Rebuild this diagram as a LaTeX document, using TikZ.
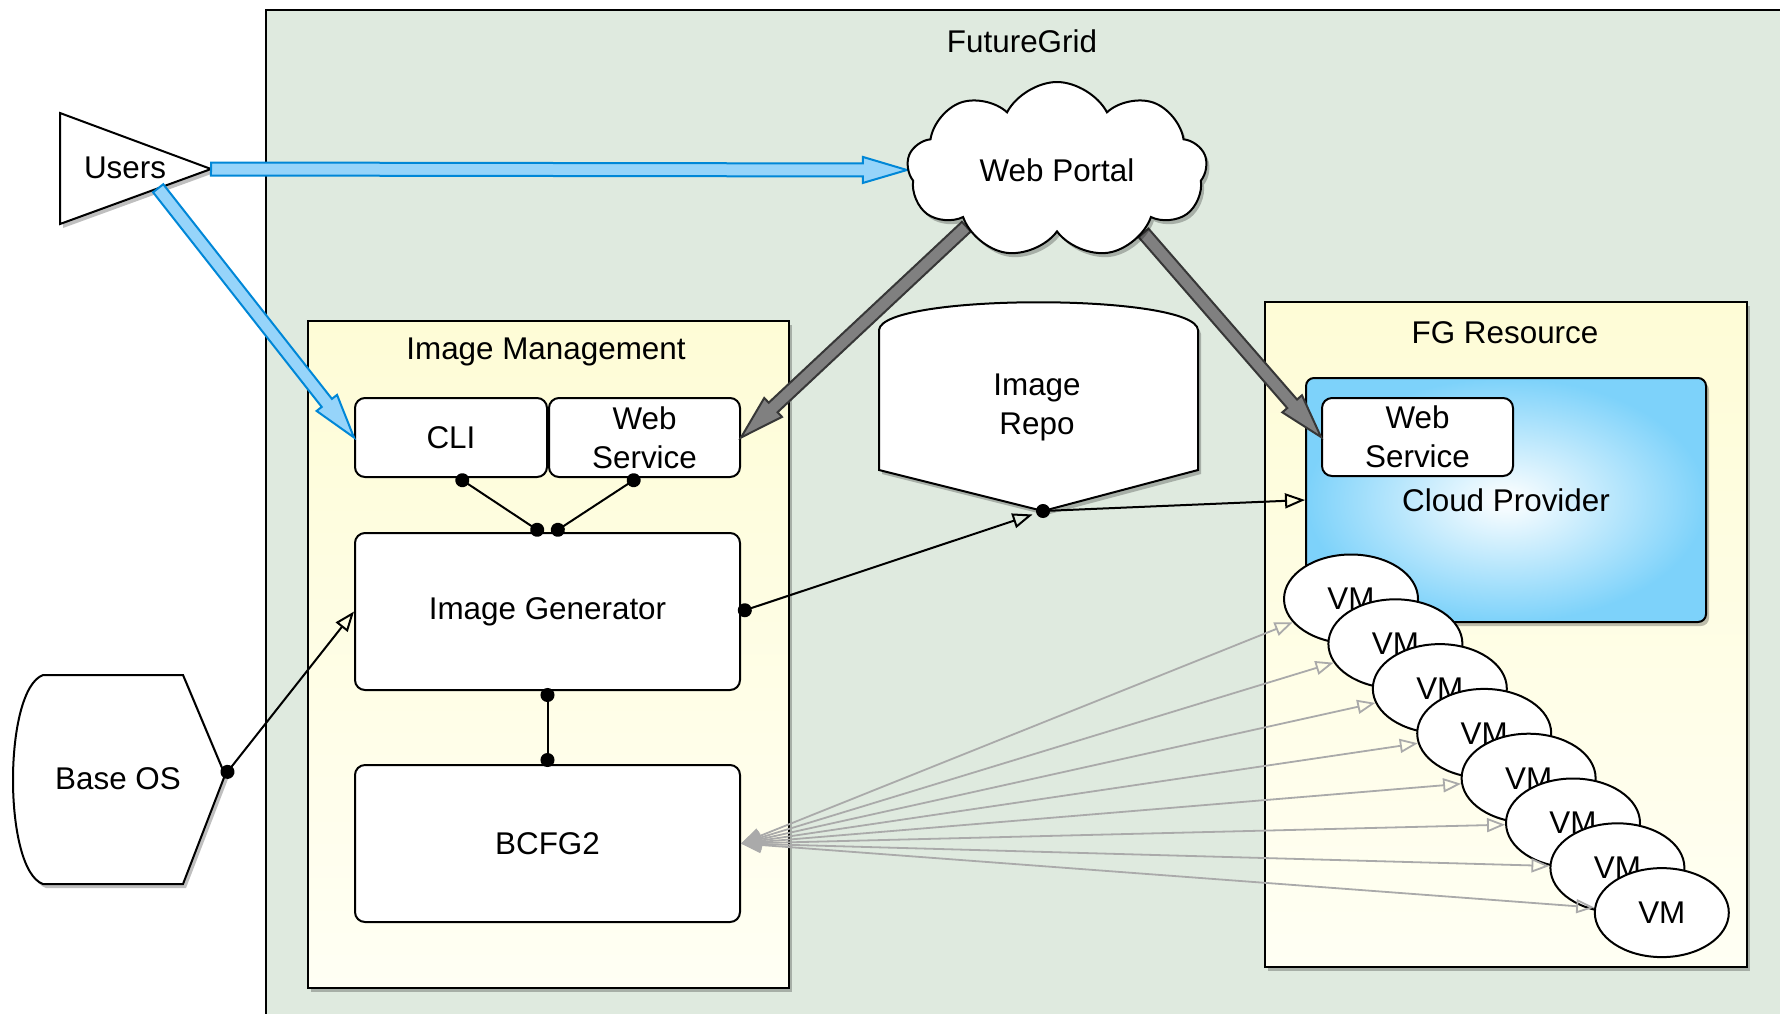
\documentclass[tikz,border=0pt]{standalone}
\usepackage{fontspec}
\setmainfont{Liberation Sans}
\usetikzlibrary{arrows.meta,calc,shapes.symbols,shapes.geometric,shadows}

\definecolor{gridbg}{RGB}{223,234,223}
\definecolor{groupyel}{RGB}{254,252,214}
\definecolor{groupyel2}{RGB}{255,255,244}
\definecolor{cpblue}{RGB}{125,210,250}
\definecolor{userfill}{RGB}{150,212,250}
\definecolor{useredge}{RGB}{0,135,215}
\definecolor{portfill}{RGB}{128,128,128}
\definecolor{portedge}{RGB}{55,55,55}
\definecolor{linkgray}{RGB}{170,170,170}
\pgfdeclarelayer{front}
\pgfsetlayers{main,front}

\begin{document}
\begin{tikzpicture}[x=0.5pt,y=-0.5pt,every node/.style={font=\fontsize{15.7}{19.5}\selectfont}]
    \tikzset{
      softshadow/.style={drop shadow={shadow xshift=1.5pt,shadow yshift=-2pt,opacity=0.25,fill=black}},
      group/.style={draw,line width=1pt,top color=groupyel,bottom color=groupyel2,softshadow},
      box/.style={draw,rectangle,rounded corners=5pt,line width=1pt,fill=white,align=center,inner sep=0pt},
      vm/.style={draw,ellipse,line width=1pt,fill=white,minimum width=67pt,minimum height=44.5pt,inner sep=0pt},
      tie/.style={{Circle[length=7pt]}-{Circle[length=7pt]},line width=1pt,shorten <=-1.5pt,shorten >=-1.5pt},
      feed/.style={{Circle[length=7pt]}-{Triangle[open,length=10pt,width=7.5pt]},line width=1pt,shorten <=-1.5pt},
      vmlink/.style={{Triangle[length=10pt,width=8pt]}-{Triangle[open,length=9pt,width=7pt]},line width=0.9pt,draw=linkgray},
      userflow/.style={fill=userfill,draw=useredge,line width=1pt},
      portalflow/.style={fill=portfill,draw=portedge,line width=1pt},
      outline/.style={draw,line width=1pt,fill=white,softshadow}
    }
    \newcommand{\fatarrow}[3]{%
      \coordinate (fa-s) at (#2);
      \coordinate (fa-e) at (#3);
      \coordinate (fa-h) at ($(fa-e)!22pt!(fa-s)$);
      \filldraw[#1,line join=miter] ($(fa-s)!3.25pt!90:(fa-e)$) -- ($(fa-h)!3.25pt!90:(fa-e)$)
        -- ($(fa-h)!6.5pt!90:(fa-e)$) -- (fa-e) -- ($(fa-h)!6.5pt!-90:(fa-e)$)
        -- ($(fa-h)!3.25pt!-90:(fa-e)$) -- ($(fa-s)!3.25pt!-90:(fa-e)$) -- cycle;
    }
    \useasboundingbox (0,0) rectangle (1780,1013);

    % FutureGrid area
    \fill[white] (0,0) rectangle (1780,1013);
    \draw[line width=1pt,fill=gridbg] (266,10) rectangle (1795,1030);
    \node (fglabel) at (1022,41) {FutureGrid};

    \draw[group] (308,321) rectangle (789,988);
    \node (imlabel) at (546,352) {Image Management};
    \draw[group] (1265,302) rectangle (1747,967);
    \node (fgrlabel) at (1505,333) {FG Resource};

    \node[box,minimum width=96pt,minimum height=39.5pt] (cli) at (451,437.5) {CLI};
    \node[box,minimum width=95.5pt,minimum height=39.5pt] (imws) at (644.5,437.5) {Web\\Service};
    \node[box,minimum width=192.5pt,minimum height=78.5pt] (gen) at (547.5,611.5) {Image Generator};
    \node[box,minimum width=192.5pt,minimum height=78.5pt] (bcfg) at (547.5,843.5) {BCFG2};

    \node[box,rounded corners=4pt,minimum width=200pt,minimum height=122pt,
      inner color=white,outer color=cpblue,softshadow] (cloudprov) at (1506,500) {Cloud Provider};
    \node[box,minimum width=95.5pt,minimum height=39pt] (fgws) at (1417.5,437) {Web\\Service};

    \foreach \i in {1,...,8}
      \node[vm] (vm\i) at ({1351+44.4*(\i-1)},{599+44.8*(\i-1)}) {VM};

    % repository, users, base image
    \draw[outline] (879,330) .. controls (882,293) and (1195,293) .. (1198,330) -- (1198,470)
      -- (1043,511) coordinate (repo-pt) -- (879,470) -- cycle;
    \node[align=center] (repo) at (1037,407) {Image\\Repo};

    \draw[outline] (60,113) coordinate (users-tl) -- (211,169) coordinate (users-tip)
      -- (60,224) coordinate (users-bl) -- cycle;
    \node (users) at (125,168) {Users};
    \coordinate (users-out) at ($(users-tip)!0.35!(users-bl)$);

    \draw[outline] (43,675) -- (183,675) -- (225,775) coordinate (os-tip) -- (183,884) -- (43,884)
      .. controls (3,870) and (3,690) .. (43,675) -- cycle;
    \node (baseos) at (118,779) {Base OS};

    % portal
    \begin{pgfonlayer}{front}
      \node[cloud,cloud puffs=9,cloud puff arc=125,aspect=1.72,draw,line width=1pt,fill=white,
        minimum width=150pt,minimum height=88pt,inner sep=0pt,softshadow] (portal) at (1057,170) {Web Portal};
    \end{pgfonlayer}
    \fatarrow{portalflow}{portal.212}{imws.east}
    \fatarrow{portalflow}{portal.-36}{fgws.west}

    \fatarrow{userflow}{users-tip}{portal.west}
    \fatarrow{userflow}{users-out}{cli.west}

    % links
    \draw[tie] ([xshift=4pt]cli.south) -- ([xshift=-3.5pt]gen.north);
    \draw[tie] ([xshift=-3.75pt]imws.south) -- ([xshift=3.5pt]gen.north);
    \draw[tie] (gen.south) -- (bcfg.north);
    \draw[feed] (os-tip) -- (gen.west);
    \draw[feed,shorten >=5.5pt] (gen.east) -- (repo-pt);
    \draw[feed,shorten <=-3.5pt] (repo-pt) -- (cloudprov.west);

    \foreach \i in {1,...,8}
      \draw[vmlink] (bcfg.east) -- (vm\i);
  \end{tikzpicture}
\end{document}
